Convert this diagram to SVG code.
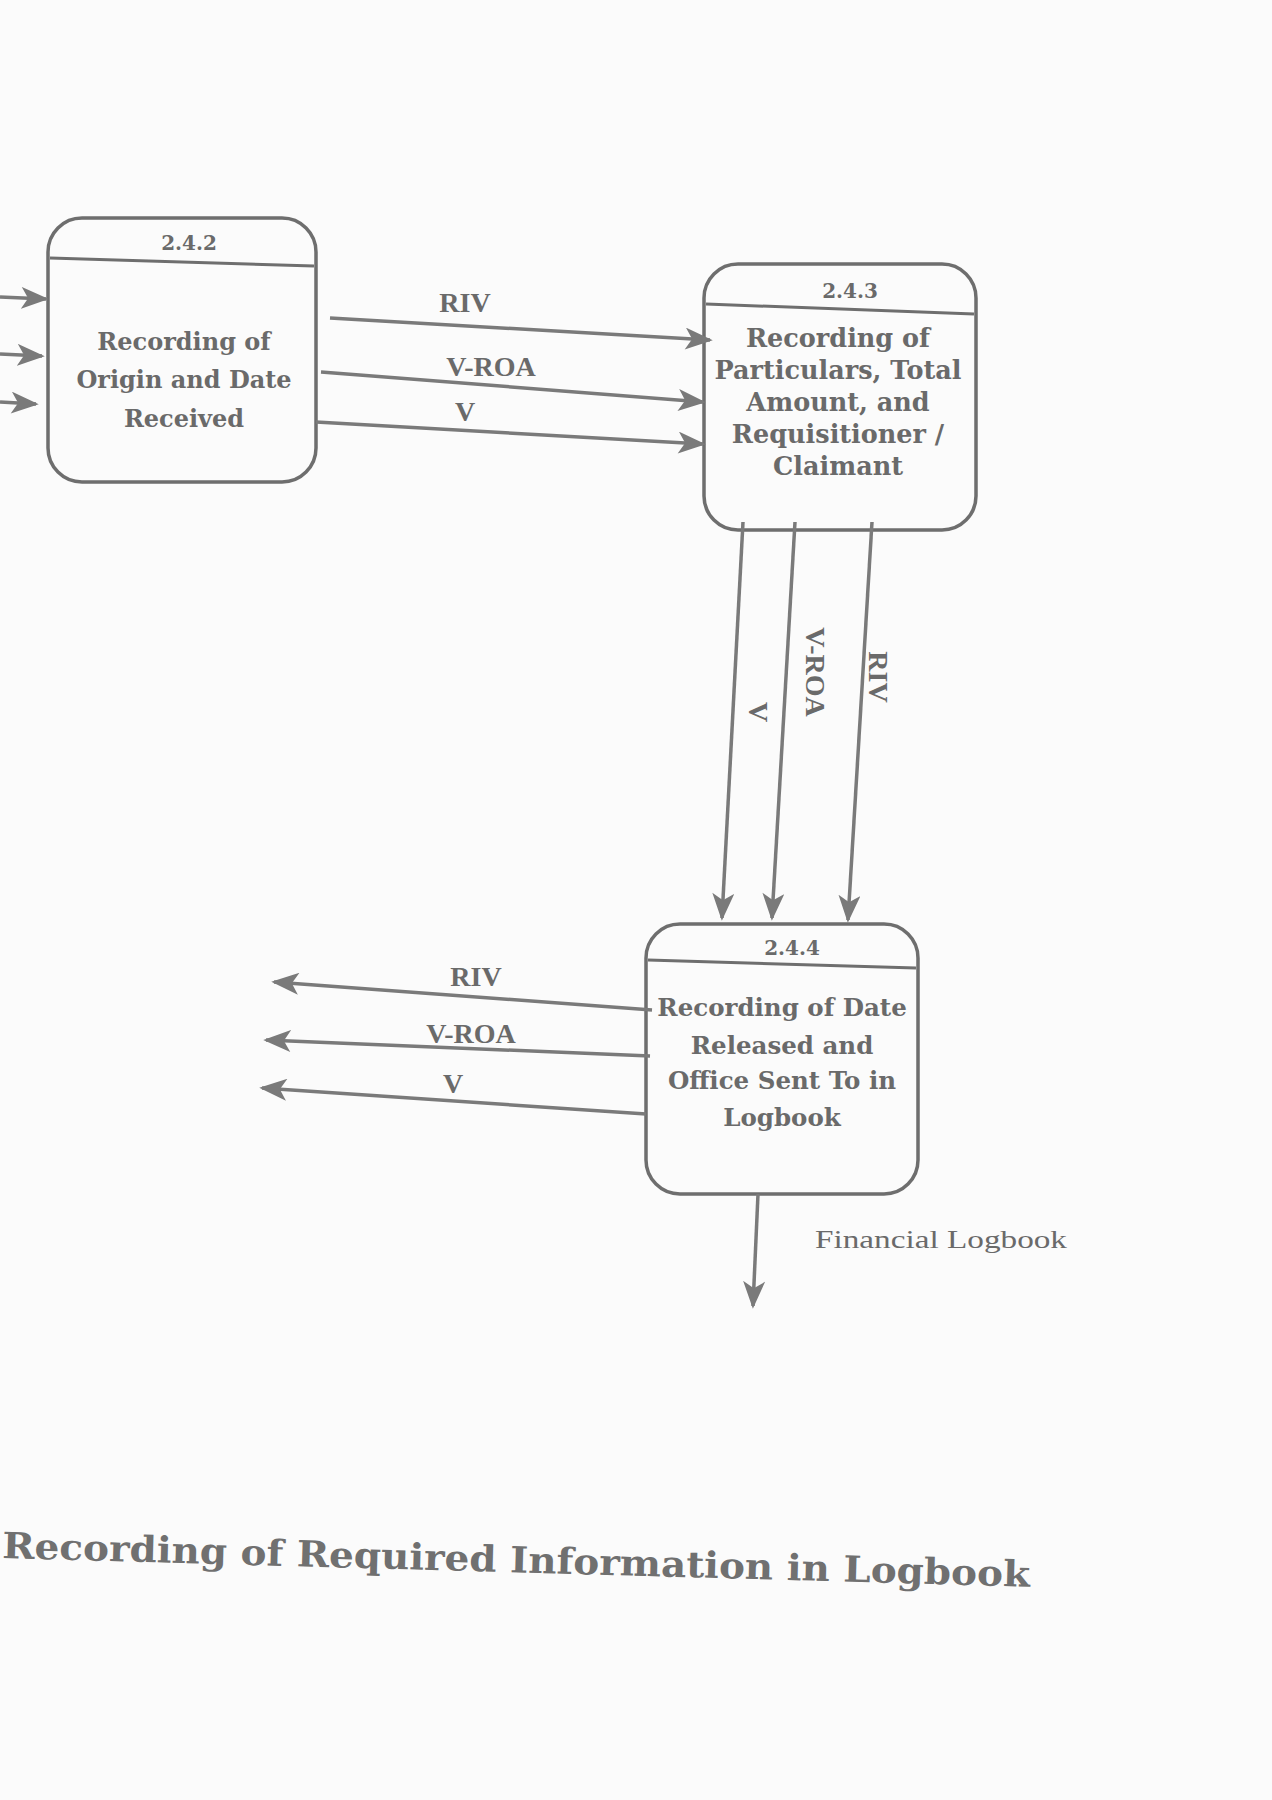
<svg xmlns="http://www.w3.org/2000/svg" width="1272" height="1800" viewBox="0 0 1272 1800">
<defs>
<style>
.box{fill:none;stroke:#6e6e6e;stroke-width:3.5}
.div{stroke:#6e6e6e;stroke-width:3}
.flow{fill:none;stroke:#7a7a7a;stroke-width:3.5}
.t{font-family:"DejaVu Serif","Liberation Serif",serif;font-weight:bold;fill:#6a6a6a;text-anchor:middle}
.n{font-size:24px}
.n3{font-size:25.5px}
.n4{font-size:24.5px}
.id{font-size:20px}
.lbl{font-size:28px;font-family:"Liberation Serif",serif;font-weight:bold;fill:#6a6a6a;text-anchor:middle}
</style>
<marker id="ah" viewBox="0 0 20 16" refX="18" refY="8" markerWidth="28" markerHeight="22" markerUnits="userSpaceOnUse" orient="auto">
<path d="M0,0 L20,8 L0,16 L5,8 z" fill="#7a7a7a"/>
</marker>
</defs>
<rect width="1272" height="1800" fill="#fbfbfb"/>

<g id="node-2.4.2">
<rect class="box" x="48" y="218" width="268" height="264" rx="34"/>
<line class="div" x1="50" y1="258" x2="314" y2="266"/>
<text class="t id" x="189" y="250">2.4.2</text>
<text class="t n" x="184" y="350">Recording of</text>
<text class="t n" x="184" y="388">Origin and Date</text>
<text class="t n" x="184" y="427">Received</text>
</g>

<g id="node-2.4.3">
<rect class="box" x="704" y="264" width="272" height="266" rx="34"/>
<line class="div" x1="706" y1="304" x2="974" y2="314"/>
<text class="t id" x="850" y="298">2.4.3</text>
<text class="t n3" x="838" y="347">Recording of</text>
<text class="t n3" x="838" y="379">Particulars, Total</text>
<text class="t n3" x="838" y="411">Amount, and</text>
<text class="t n3" x="838" y="443">Requisitioner /</text>
<text class="t n3" x="838" y="475">Claimant</text>
</g>

<g id="node-2.4.4">
<rect class="box" x="646" y="924" width="272" height="270" rx="34"/>
<line class="div" x1="648" y1="960" x2="916" y2="968"/>
<text class="t id" x="792" y="955">2.4.4</text>
<text class="t n4" x="782" y="1016">Recording of Date</text>
<text class="t n4" x="782" y="1054">Released and</text>
<text class="t n4" x="782" y="1089">Office Sent To in</text>
<text class="t n4" x="782" y="1126">Logbook</text>
</g>

<g id="connectors">
<line class="flow" x1="0" y1="297" x2="46" y2="299" marker-end="url(#ah)"/>
<line class="flow" x1="0" y1="354" x2="42" y2="356" marker-end="url(#ah)"/>
<line class="flow" x1="0" y1="402" x2="36" y2="404" marker-end="url(#ah)"/>

<line class="flow" x1="330" y1="318" x2="710" y2="340" marker-end="url(#ah)"/>
<line class="flow" x1="321" y1="372" x2="703" y2="402" marker-end="url(#ah)"/>
<line class="flow" x1="316" y1="422" x2="703" y2="444" marker-end="url(#ah)"/>

<line class="flow" x1="743" y1="522" x2="722" y2="918" marker-end="url(#ah)"/>
<line class="flow" x1="795" y1="522" x2="772" y2="918" marker-end="url(#ah)"/>
<line class="flow" x1="872" y1="522" x2="848" y2="920" marker-end="url(#ah)"/>

<line class="flow" x1="652" y1="1010" x2="274" y2="982" marker-end="url(#ah)"/>
<line class="flow" x1="650" y1="1056" x2="266" y2="1040" marker-end="url(#ah)"/>
<line class="flow" x1="646" y1="1114" x2="262" y2="1088" marker-end="url(#ah)"/>

<line class="flow" x1="758" y1="1194" x2="753" y2="1306" marker-end="url(#ah)"/>

<text class="lbl" x="465" y="312">RIV</text>
<text class="lbl" x="491" y="376">V-ROA</text>
<text class="lbl" x="465" y="421">V</text>

<text class="lbl" transform="translate(749,712) rotate(90)">V</text>
<text class="lbl" transform="translate(806,672) rotate(90)">V-ROA</text>
<text class="lbl" transform="translate(869,677) rotate(90)">RIV</text>

<text class="lbl" x="476" y="986">RIV</text>
<text class="lbl" x="471" y="1043">V-ROA</text>
<text class="lbl" x="453" y="1093">V</text>

<text x="815" y="1248" font-family="Liberation Serif,serif" font-size="25" fill="#6a6a6a" textLength="252" lengthAdjust="spacingAndGlyphs">Financial Logbook</text>
</g>

<text transform="translate(2,1558) rotate(1.6)" font-family="DejaVu Serif,Liberation Serif,serif" font-weight="bold" font-size="36" fill="#707070" textLength="1028" lengthAdjust="spacingAndGlyphs">Recording of Required Information in Logbook</text>
</svg>
